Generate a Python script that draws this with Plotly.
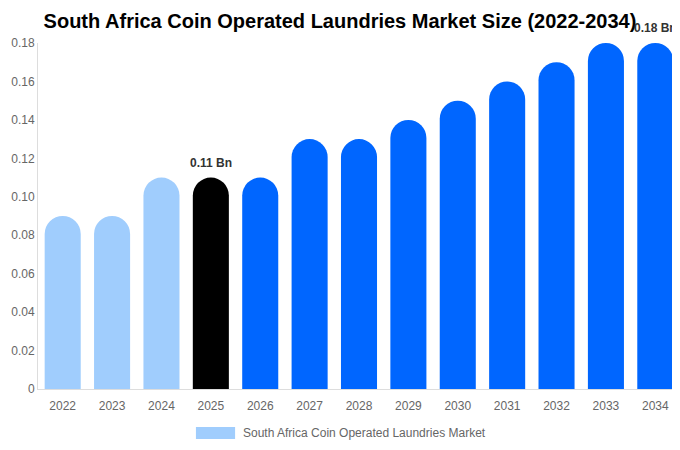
import plotly.graph_objects as go

years = ['2022', '2023', '2024', '2025', '2026', '2027', '2028',
         '2029', '2030', '2031', '2032', '2033', '2034']
values = [0.09, 0.09, 0.11, 0.11, 0.11, 0.13, 0.13, 0.14, 0.15, 0.16, 0.17, 0.18, 0.18]
colors = ['#a0cdfd'] * 3 + ['#000000'] + ['#0066ff'] * 9
ytick_vals = [0, 0.02, 0.04, 0.06, 0.08, 0.10, 0.12, 0.14, 0.16, 0.18]
ytick_text = ['0', '0.02', '0.04', '0.06', '0.08', '0.10', '0.12', '0.14', '0.16', '0.18']
labelled = {'2025': '0.11 Bn', '2034': '0.18 Bn'}
legend_name = 'South Africa Coin Operated Laundries Market'

fig = go.Figure()
fig.add_trace(go.Bar(x=years, y=values, marker=dict(color=colors, line=dict(width=0), cornerradius='50%'),
                     name=legend_name, showlegend=False))

# numeric-looking category names get read as positions, so use the index
for yr, txt in labelled.items():
    i = years.index(yr)
    fig.add_annotation(x=i, y=values[i], text='<b>' + txt + '</b>', showarrow=False,
                       yanchor='bottom', yshift=6, font=dict(size=12, color='#333333'))

# legend drawn by hand so the swatch is a wide rectangle
fig.add_shape(type='rect', xref='paper', yref='paper', x0=0.246, x1=0.307, y0=-0.110, y1=-0.1445,
              fillcolor='#a0cdfd', line=dict(width=0))
fig.add_annotation(xref='paper', yref='paper', x=0.316, y=-0.127, text=legend_name, showarrow=False,
                   xanchor='left', yanchor='middle', font=dict(size=12, color='#666666'))

fig.update_layout(
    width=672, height=442,
    title=dict(text='<b>South Africa Coin Operated Laundries Market Size (2022-2034)</b>',
               x=0.494, xanchor='center', y=0.971, yanchor='middle',
               font=dict(family='Liberation Sans, Arial', size=20, color='#000000')),
    font=dict(family='Liberation Sans, Arial', size=12, color='#666666'),
    plot_bgcolor='white', paper_bgcolor='white',
    margin=dict(l=30, r=0, t=35, b=61),
    bargap=0.27,
)
fig.update_xaxes(type='category', showgrid=False, showline=True, linecolor='#dddddd', linewidth=1,
                 ticks='', ticklabelstandoff=6, automargin=False, tickfont=dict(size=12, color='#666666'))
fig.update_yaxes(range=[0, 0.18], tickvals=ytick_vals, ticktext=ytick_text, showgrid=False,
                 zeroline=False, showline=True, linecolor='#dddddd', linewidth=1, ticks='',
                 automargin=False, tickfont=dict(size=12, color='#666666'))

fig.write_html('out.html')
